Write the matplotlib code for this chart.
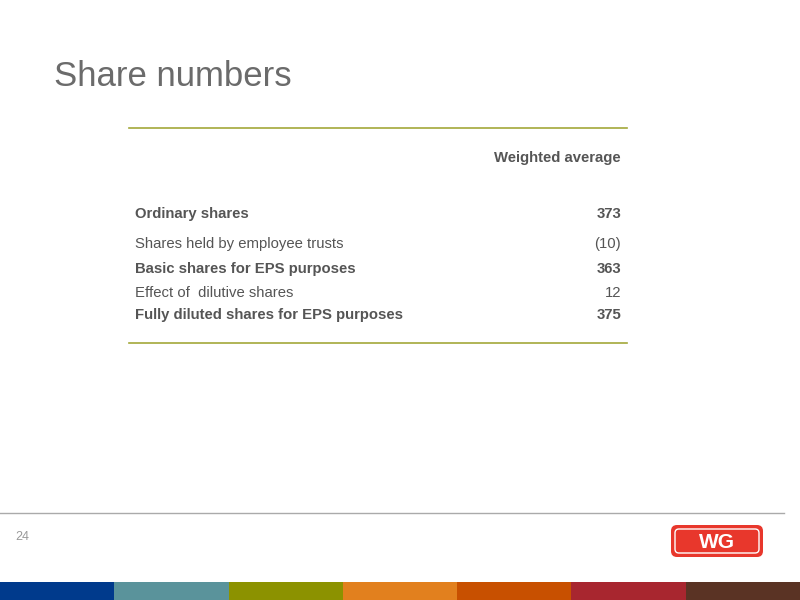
import matplotlib.pyplot as plt
from matplotlib.patches import FancyBboxPatch, Rectangle

plt.rcParams['font.family'] = ['Liberation Sans', 'DejaVu Sans']

row_labels = ["Ordinary shares", "Shares held by employee trusts",
              "Basic shares for EPS purposes", "Effect of  dilutive shares",
              "Fully diluted shares for EPS purposes"]
row_values = ["373", "(10)", "363", "12", "375"]
row_bold = [True, False, True, False, True]
row_y = [214, 244, 269, 293, 315]

band_colors = ["#003a8c", "#5a939b", "#8c9200", "#e2801e", "#c85000", "#a8262f", "#5a3324"]

fig = plt.figure(figsize=(8, 6), dpi=100)
ax = fig.add_axes([0, 0, 1, 1])
ax.set_xlim(0, 800)
ax.set_ylim(600, 0)
ax.axis("off")

ax.text(54, 76, "Share numbers", fontsize=25, color="#6b6b6b", va="center", ha="left")

line_col = "#a3a83a"
ax.plot([129, 627], [128, 128], color=line_col, lw=1.2)
ax.plot([129, 627], [343, 343], color=line_col, lw=1.2)
ax.text(621, 158, "Weighted average", fontsize=10.7, fontweight="bold", color="#555555",
        ha="right", va="center")

for lab, val, b, y in zip(row_labels, row_values, row_bold, row_y):
    w = "bold" if b else "normal"
    ax.text(135, y, lab, fontsize=10.7, fontweight=w, color="#555555", ha="left", va="center")
    ax.text(621, y, val, fontsize=10.7, fontweight=w, color="#555555", ha="right", va="center")

ax.plot([0, 784], [513, 513], color="#aaaaaa", lw=1)
ax.text(15, 537, "24", fontsize=9, color="#999999", ha="left", va="center")

# logo
ax.add_patch(FancyBboxPatch((671, 525), 92, 32, boxstyle="round,pad=0,rounding_size=6",
                            fc="#e8372c", ec="none"))
ax.add_patch(FancyBboxPatch((675, 529), 84, 24, boxstyle="round,pad=0,rounding_size=4",
                            fc="none", ec="white", lw=1))
ax.text(717, 542, "WG", fontsize=15, fontweight="bold", color="white", ha="center", va="center")

seg = 800 / len(band_colors)
for i, c in enumerate(band_colors):
    ax.add_patch(Rectangle((i * seg, 582), seg + 0.5, 18, fc=c, ec="none"))

fig.savefig("out.png", dpi=100)
